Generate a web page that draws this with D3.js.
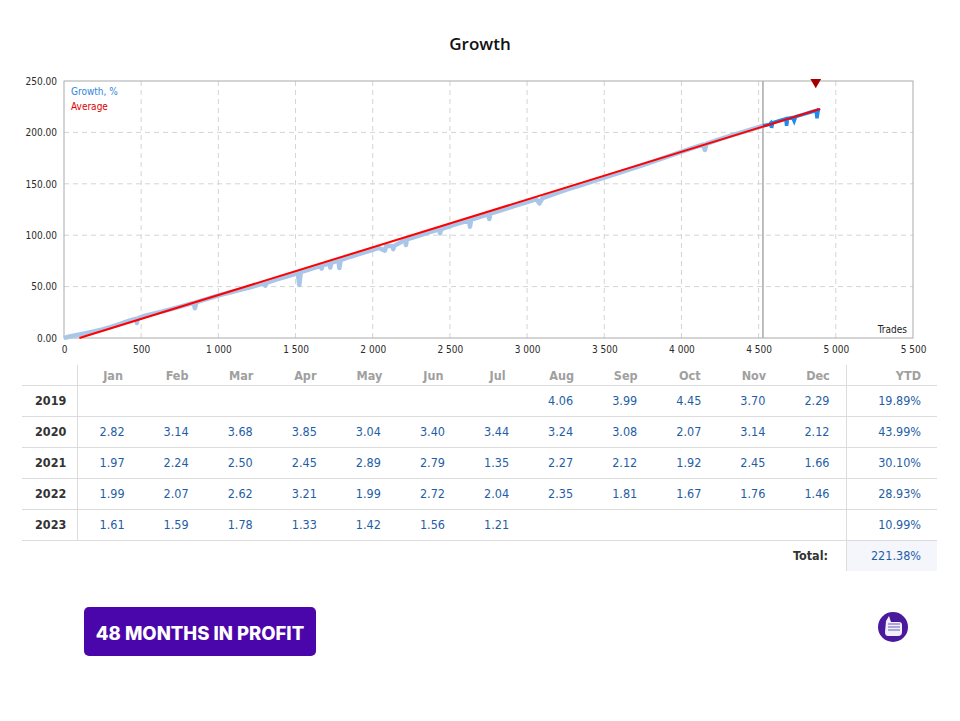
<!DOCTYPE html>
<html>
<head>
<meta charset="utf-8">
<script src="https://cdn.jsdelivr.net/npm/d3@7/dist/d3.min.js"></script>
<style>
	body { margin: 0; background: #fff; }
	svg { display: block; }
</style>
</head>
<body>
<div id="chart"></div>
<script>
var width = 960;
var height = 721;

// growth curve (trades -> %)
var growthTrades = [0, 30, 60, 100, 150, 200, 250, 300, 350, 400, 440, 465, 472, 480, 520, 580, 640, 700, 760, 820,
	840, 848, 858, 900, 960, 1020, 1080, 1140, 1200, 1260, 1300, 1305, 1312, 1380, 1440, 1500, 1515, 1524, 1534, 1580,
	1630, 1665, 1669, 1675, 1720, 1725, 1732, 1778, 1784, 1792, 1850, 1920, 1990, 2040, 2079, 2088, 2128, 2133, 2140, 2210,
	2215, 2222, 2290, 2360, 2430, 2436, 2444, 2520, 2590, 2625, 2630, 2638, 2700, 2750, 2755, 2762, 2840, 2920, 3000, 3060,
	3080, 3100, 3200, 3260, 3340, 3420, 3500, 3580, 3660, 3740, 3820, 3900, 3980, 4060, 4140, 4152, 4162, 4240, 4320, 4400,
	4480, 4528];
var growthValues = [0, 1.2, 2.2, 3.4, 5, 6.6, 8.4, 10.6, 13, 15.6, 17.5, 18.7, 14.6, 19.2, 21.5, 23.7, 25.9, 28.4, 30.8, 33.4,
	34.2, 29, 34.8, 36.8, 39.6, 42.2, 44.5, 46.8, 49, 51.6, 53.3, 51, 53.7, 57, 59.8, 62.5, 63.2, 51.6, 64, 66.2,
	68.6, 70.2, 67.5, 70.6, 72.7, 68.5, 73, 75.4, 68, 75.8, 78.8, 82, 85.3, 87.6, 85, 89.8, 89.2, 86.5, 89.6, 95.5,
	90.5, 96, 99.2, 102.5, 105.7, 101.8, 106, 109.9, 113.1, 114.8, 108.3, 115.2, 118.2, 120.6, 115.8, 120.9, 124.7, 128.5, 132.2, 135,
	131, 136, 141.5, 144.5, 148.3, 152.2, 156, 159.8, 163.8, 167.8, 171.8, 176, 180.2, 184.3, 188.2, 182.9, 188.9, 193, 196.8, 200.6,
	204.2, 206.4];

// recent part of the curve (after the divider)
var recentTrades = [4528, 4570, 4578, 4584, 4592, 4640, 4676, 4681, 4688, 4720, 4730, 4740, 4800, 4840, 4872, 4878, 4886, 4898];
var recentValues = [206.4, 207.8, 209, 204.5, 209.5, 211.6, 213.2, 206.5, 213.5, 214.4, 211, 215.3, 218, 219.8, 221.2, 213.7, 221.8, 221.38];

var averageTrades = [100, 4898];
var averageValues = [0, 222.8];

var dividerTrade = 4528;
var markerTrade = 4870;
var markerValue = 250;

var xTicks = [0, 500, 1000, 1500, 2000, 2500, 3000, 3500, 4000, 4500, 5000, 5500];
var yTicks = [0, 50, 100, 150, 200, 250];

var months = ["Jan", "Feb", "Mar", "Apr", "May", "Jun", "Jul", "Aug", "Sep", "Oct", "Nov", "Dec"];
var years = ["2019", "2020", "2021", "2022", "2023"];
var monthly = [
	[null, null, null, null, null, null, null, 4.06, 3.99, 4.45, 3.70, 2.29],
	[2.82, 3.14, 3.68, 3.85, 3.04, 3.40, 3.44, 3.24, 3.08, 2.07, 3.14, 2.12],
	[1.97, 2.24, 2.50, 2.45, 2.89, 2.79, 1.35, 2.27, 2.12, 1.92, 2.45, 1.66],
	[1.99, 2.07, 2.62, 3.21, 1.99, 2.72, 2.04, 2.35, 1.81, 1.67, 1.76, 1.46],
	[1.61, 1.59, 1.78, 1.33, 1.42, 1.56, 1.21, null, null, null, null, null]
];
var ytd = [19.89, 43.99, 30.10, 28.93, 10.99];
var total = 221.38;
var monthsInProfit = 48;

var canvas = d3.select("#chart")
				.append("svg")
				.attr("width", width)
				.attr("height", height);

var fontAxis = "'DejaVu Sans Condensed', 'DejaVu Sans', sans-serif";

// ---- growth chart ----

var x = d3.scaleLinear().domain([0, 5500]).range([64, 913]);
var y = d3.scaleLinear().domain([0, 250]).range([338, 81]);

var loc = d3.formatLocale({decimal: ".", thousands: " ", grouping: [3], currency: ["", ""]});
var fmtTrades = loc.format(",");
var fmtPct = d3.format(".2f");

canvas.append("text")
		.attr("x", width/2)
		.attr("y", 50)
		.attr("text-anchor", "middle")
		.attr("font-family", "'Open Sans', sans-serif")
		.attr("font-weight", 600)
		.attr("font-size", 17)
		.attr("fill", "#111")
		.text("Growth");

var grid = canvas.append("g");

grid.selectAll("line.v")
	.data(xTicks.slice(1, -1))
	.enter().append("line")
		.attr("x1", d => x(d)).attr("x2", d => x(d))
		.attr("y1", y(250)).attr("y2", y(0))
		.attr("stroke", "#d4d4d4")
		.attr("stroke-dasharray", "5,4");

grid.selectAll("line.h")
	.data(yTicks.slice(1, -1))
	.enter().append("line")
		.attr("x1", x(0)).attr("x2", x(5500))
		.attr("y1", d => y(d)).attr("y2", d => y(d))
		.attr("stroke", "#d4d4d4")
		.attr("stroke-dasharray", "5,4");

canvas.append("line")
		.attr("x1", x(dividerTrade)).attr("x2", x(dividerTrade))
		.attr("y1", y(250)).attr("y2", y(0))
		.attr("stroke", "#a8a8a8")
		.attr("stroke-width", 1.5);

canvas.append("rect")
		.attr("x", x(0)).attr("y", y(250))
		.attr("width", x(5500) - x(0))
		.attr("height", y(0) - y(250))
		.attr("fill", "none")
		.attr("stroke", "#aaa");

var xAxis = canvas.append("g")
		.attr("transform", "translate(0," + y(0) + ")")
		.call(d3.axisBottom(x).tickValues(xTicks).tickFormat(fmtTrades).tickSize(0).tickPadding(8));

var yAxis = canvas.append("g")
		.attr("transform", "translate(" + x(0) + ",0)")
		.call(d3.axisLeft(y).tickValues(yTicks).tickFormat(fmtPct).tickSize(0).tickPadding(7));

[xAxis, yAxis].forEach(function(a) {
	a.select(".domain").remove();
	a.selectAll("text")
		.attr("font-family", fontAxis)
		.attr("font-size", 10)
		.attr("fill", "#2b2b2b");
});

var line = d3.line()
		.x(d => x(d[0]))
		.y(d => y(d[1]));

canvas.append("path")
		.datum(d3.zip(growthTrades, growthValues))
		.attr("d", line)
		.attr("fill", "none")
		.attr("stroke", "#a9c6e8")
		.attr("stroke-width", 4.5)
		.attr("stroke-linejoin", "round");

canvas.append("path")
		.datum(d3.zip(recentTrades, recentValues))
		.attr("d", line)
		.attr("fill", "none")
		.attr("stroke", "#1c8cf2")
		.attr("stroke-width", 3.5)
		.attr("stroke-linejoin", "miter");

canvas.append("path")
		.datum(d3.zip(averageTrades, averageValues))
		.attr("d", line)
		.attr("fill", "none")
		.attr("stroke", "#ff0000")
		.attr("stroke-width", 2);

canvas.append("path")
		.attr("d", d3.symbol().type(d3.symbolTriangle).size(50)())
		.attr("transform", "translate(" + x(markerTrade) + "," + (y(markerValue) + 1) + ") rotate(180)")
		.attr("fill", "#a30000");

// legend
canvas.append("text")
		.attr("x", x(0) + 7).attr("y", y(250) + 14)
		.attr("font-family", fontAxis).attr("font-size", 10)
		.attr("fill", "#2e86de")
		.text("Growth, %");
canvas.append("text")
		.attr("x", x(0) + 7).attr("y", y(250) + 29)
		.attr("font-family", fontAxis).attr("font-size", 10)
		.attr("fill", "#e00000")
		.text("Average");
canvas.append("text")
		.attr("x", x(5500) - 6).attr("y", y(0) - 5)
		.attr("text-anchor", "end")
		.attr("font-family", fontAxis).attr("font-size", 10)
		.attr("fill", "#222")
		.text("Trades");

// ---- monthly table ----

var tableLeft = 22, tableRight = 937;
var colX = d3.scaleBand().domain(months).range([77, 846]);
var rowY = d3.scaleBand().domain(["head"].concat(years).concat(["total"])).range([354, 571]);
var lineColor = "#dcdcdc";
var fontTable = "'DejaVu Sans Condensed', 'DejaVu Sans', sans-serif";
var blue = "#1f5ea6";

var table = canvas.append("g");

table.append("rect")
		.attr("x", 846).attr("y", rowY("total"))
		.attr("width", tableRight - 846).attr("height", rowY.bandwidth())
		.attr("fill", "#f4f6fc");

table.selectAll("line.row")
	.data(["head"].concat(years))
	.enter().append("line")
		.attr("x1", tableLeft).attr("x2", tableRight)
		.attr("y1", d => rowY(d) + rowY.bandwidth() + 0.5)
		.attr("y2", d => rowY(d) + rowY.bandwidth() + 0.5)
		.attr("stroke", lineColor);

table.append("line")
		.attr("x1", 77.5).attr("x2", 77.5)
		.attr("y1", rowY("head") + 11).attr("y2", rowY("2023") + rowY.bandwidth())
		.attr("stroke", lineColor);
table.append("line")
		.attr("x1", 846.5).attr("x2", 846.5)
		.attr("y1", rowY("head") + 11).attr("y2", rowY("total") + rowY.bandwidth())
		.attr("stroke", lineColor);

var midY = d => rowY(d) + rowY.bandwidth()/2 + 4.5;

table.selectAll("text.month")
	.data(months)
	.enter().append("text")
		.attr("x", d => colX(d) + colX.bandwidth()/2 + 4)
		.attr("y", rowY("head") + 25.5)
		.attr("text-anchor", "middle")
		.attr("font-family", fontTable).attr("font-size", 12.5).attr("font-weight", "bold")
		.attr("fill", "#a0a0a0")
		.text(d => d);

table.append("text")
		.attr("x", 921).attr("y", rowY("head") + 25.5)
		.attr("text-anchor", "end")
		.attr("font-family", fontTable).attr("font-size", 12.5).attr("font-weight", "bold")
		.attr("fill", "#a0a0a0")
		.text("YTD");

years.forEach(function(yr, i) {
	table.append("text")
			.attr("x", 35).attr("y", midY(yr))
			.attr("font-family", fontTable).attr("font-size", 12.5).attr("font-weight", "bold")
			.attr("fill", "#333")
			.text(yr);

	table.selectAll("text.v" + yr)
		.data(monthly[i].map((v, j) => [months[j], v]).filter(d => d[1] !== null))
		.enter().append("text")
			.attr("x", d => colX(d[0]) + colX.bandwidth()/2 + 3)
			.attr("y", midY(yr))
			.attr("text-anchor", "middle")
			.attr("font-family", fontTable).attr("font-size", 12.5)
			.attr("fill", blue)
			.text(d => fmtPct(d[1]));

	table.append("text")
			.attr("x", 921).attr("y", midY(yr))
			.attr("text-anchor", "end")
			.attr("font-family", fontTable).attr("font-size", 12.5)
			.attr("fill", blue)
			.text(fmtPct(ytd[i]) + "%");
});

table.append("text")
		.attr("x", 828).attr("y", midY("total"))
		.attr("text-anchor", "end")
		.attr("font-family", fontTable).attr("font-size", 12.5).attr("font-weight", "bold")
		.attr("fill", "#333")
		.text("Total:");
table.append("text")
		.attr("x", 921).attr("y", midY("total"))
		.attr("text-anchor", "end")
		.attr("font-family", fontTable).attr("font-size", 12.5)
		.attr("fill", blue)
		.text(fmtPct(total) + "%");

// ---- badge + icon ----

var badge = canvas.append("g");
badge.append("rect")
		.attr("x", 84).attr("y", 607)
		.attr("width", 232).attr("height", 49)
		.attr("rx", 5)
		.attr("fill", "#4a06aa");
badge.append("text")
		.attr("x", 200).attr("y", 639.5)
		.attr("text-anchor", "middle")
		.attr("font-family", "Inter, sans-serif")
		.attr("font-weight", 800)
		.attr("font-size", 18.5)
		.attr("fill", "#fff")
		.text(monthsInProfit + " MONTHS IN PROFIT");

var icon = canvas.append("g").attr("transform", "translate(893,627)");
icon.append("circle").attr("r", 15).attr("fill", "#4b1a9c");
icon.append("path")
		.attr("d", "M-7,-6 L-4,-11 L-2,-5 L6,-5 Q9,-5 9,-2 L9,5 Q9,9 5,9 L-5,9 Q-8,9 -8,5 Z")
		.attr("fill", "#f2f0fa");
icon.append("path")
		.attr("d", "M-5,-3 L7,-3 M-5,0 L7,0 M-5,3 L7,3")
		.attr("stroke", "#6a5ab8")
		.attr("stroke-width", 1);
</script>
</body>
</html>
